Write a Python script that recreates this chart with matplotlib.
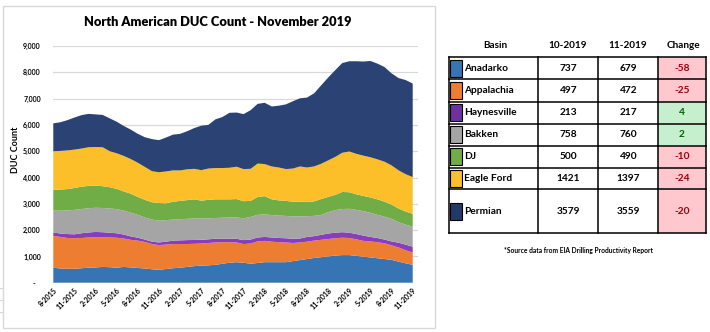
import matplotlib
matplotlib.use("Agg")
import matplotlib.pyplot as plt
from matplotlib.patches import Rectangle
import numpy as np

plt.rcParams['font.family'] = ['Lato', 'DejaVu Sans']

# ---- monthly DUC counts, Aug-2015 .. Nov-2019 ----
anadarko = [570, 540, 530, 530, 550, 570, 580, 600, 590, 570, 600, 580, 560, 540, 510, 490,
            520, 550, 570, 600, 630, 650, 660, 680, 720, 760, 780, 760, 720, 750, 780, 780,
            780, 780, 820, 860, 900, 940, 970, 1000, 1030, 1050, 1050, 1020, 990, 960, 930,
            900, 870, 800, 737, 679]
appalachia = [1210, 1200, 1170, 1160, 1150, 1150, 1150, 1130, 1130, 1140, 1080, 1050, 1040, 1010,
              960, 940, 930, 920, 900, 870, 850, 840, 850, 850, 820, 780, 750, 710, 770, 820,
              810, 780, 760, 750, 690, 670, 660, 660, 660, 660, 660, 660, 650, 630, 600, 610,
              610, 600, 550, 540, 497, 472]
haynesville = [130, 130, 150, 150, 180, 190, 200, 190, 180, 170, 150, 130, 110, 90, 90, 100,
               110, 130, 140, 150, 145, 140, 140, 140, 130, 130, 140, 150, 150, 150, 150, 160,
               160, 160, 160, 150, 180, 170, 190, 210, 210, 210, 200, 200, 200, 170, 160, 140,
               150, 180, 213, 217]
bakken = [830, 870, 900, 930, 920, 920, 920, 920, 920, 920, 910, 900, 870, 840, 840, 830,
          820, 800, 800, 810, 815, 810, 800, 790, 800, 810, 810, 830, 860, 860, 860, 850,
          850, 850, 850, 840, 790, 770, 760, 810, 860, 880, 910, 920, 930, 920, 880, 870,
          860, 780, 758, 760]
dj = [790, 800, 810, 830, 850, 850, 840, 830, 810, 770, 730, 720, 680, 670, 660, 670,
      640, 680, 700, 710, 730, 680, 700, 710, 700, 690, 700, 650, 610, 680, 690, 600,
      580, 570, 560, 560, 550, 550, 600, 580, 580, 650, 630, 590, 580, 580, 590, 570,
      540, 520, 500, 490]
eagle_ford = [1470, 1470, 1470, 1460, 1450, 1470, 1470, 1480, 1370, 1350, 1350, 1320, 1300, 1250,
              1180, 1170, 1210, 1190, 1160, 1170, 1160, 1160, 1190, 1190, 1190, 1200, 1230, 1220,
              1220, 1270, 1220, 1250, 1250, 1210, 1260, 1340, 1300, 1330, 1340, 1390, 1440, 1490,
              1550, 1540, 1530, 1530, 1520, 1520, 1490, 1450, 1421, 1397]
permian = [1060, 1090, 1150, 1220, 1270, 1270, 1240, 1230, 1250, 1200, 1140, 1120, 1100, 1130,
           1220, 1220, 1290, 1360, 1390, 1450, 1550, 1690, 1660, 1850, 1940, 2090, 2060, 2090,
           2230, 2270, 2330, 2280, 2350, 2460, 2560, 2590, 2660, 2780, 2980, 3150, 3300, 3410,
           3430, 3520, 3580, 3660, 3640, 3600, 3500, 3510, 3579, 3559]

month_labels = ["8-2015", "11-2015", "2-2016", "5-2016", "8-2016", "11-2016", "2-2017",
                "5-2017", "8-2017", "11-2017", "2-2018", "5-2018", "8-2018", "11-2018",
                "2-2019", "5-2019", "8-2019", "11-2019"]

# ---- summary table ----
basins = ["Anadarko", "Appalachia", "Haynesville", "Bakken", "DJ", "Eagle Ford", "Permian"]
oct_2019 = [737, 497, 213, 758, 500, 1421, 3579]
nov_2019 = [679, 472, 217, 760, 490, 1397, 3559]
change = [n - o for n, o in zip(nov_2019, oct_2019)]

area_colors = ["#3674b4", "#ed7d31", "#8a3cbf", "#a5a5a5", "#70ad47", "#fcbf2a", "#2a4374"]
swatch_colors = ["#3674b4", "#ed7d31", "#7030a0", "#a5a5a5", "#70ad47", "#fcbf2a", "#243a66"]

W, H = 710, 332
fig = plt.figure(figsize=(W / 100, H / 100), dpi=100)

# ---- stacked area chart ----
ax = fig.add_axes([53.3 / W, 1 - 282.7 / H, (418 - 53.3) / W, (282.7 - 46) / H])
x = np.arange(len(anadarko))
ax.stackplot(x, anadarko, appalachia, haynesville, bakken, dj, eagle_ford, permian,
             colors=area_colors, linewidth=0, zorder=2)
ax.set_xlim(0, 51.75)
ax.set_ylim(0, 9000)
ax.set_yticks(np.arange(0, 9001, 1000))
ax.set_yticklabels(["-   "] + [f"{v:,}" for v in range(1000, 9001, 1000)])
ax.set_xticks(np.arange(0, len(anadarko), 3))
ax.set_xticklabels(month_labels, rotation=45, ha='right', va='top', rotation_mode='anchor')
ax.tick_params(axis='both', length=0, labelsize=5, pad=3)
ax.tick_params(axis='y', pad=9)
for lab in ax.get_xticklabels() + ax.get_yticklabels():
    lab.set_fontweight('bold')
ax.grid(axis='y', color='#d9d9d9', linewidth=0.9, zorder=0)
ax.set_axisbelow(True)
for s in ax.spines.values():
    s.set_visible(False)
ax.set_ylabel("DUC Count", fontsize=6.5, fontweight='bold')
ax.yaxis.set_label_coords(-33.8 / (418 - 53.3), (282.7 - 150) / (282.7 - 46))

# ---- background frame and title ----
ov = fig.add_axes([0, 0, 1, 1])
ov.set_xlim(0, W)
ov.set_ylim(H, 0)
ov.axis('off')
ov.set_zorder(-1)

ov.add_patch(Rectangle((3, 6), 432, 322, fill=False, edgecolor='#d9d9d9', linewidth=1))
for yy in (288, 300, 312):
    ov.plot([0, 3], [yy, yy], color='#d9d9d9', linewidth=0.8)

ov.text(218, 22, "North American DUC Count - November 2019", ha='center', va='center',
        fontsize=9.3, fontweight='heavy')

# ---- basin table ----
ov2 = fig.add_axes([0, 0, 1, 1])
ov2.set_xlim(0, W)
ov2.set_ylim(H, 0)
ov2.axis('off')

col_edges = [449.3, 538.3, 598.3, 658.3, 705.7]
row_edges = [57.3, 79.3, 101.7, 123.7, 145.7, 167.7, 189.3, 233.3]
headers = ["Basin", "10-2019", "11-2019", "Change"]
header_x = [495, 568, 628, 683]
for hx, h in zip(header_x, headers):
    ov2.text(hx, 45, h, ha='center', va='center', fontsize=7.2, fontweight='bold')

for i, name in enumerate(basins):
    y0, y1 = row_edges[i], row_edges[i + 1]
    yc = (y0 + y1) / 2
    neg = change[i] < 0
    ov2.add_patch(Rectangle((col_edges[3], y0), col_edges[4] - col_edges[3], y1 - y0,
                            facecolor='#ffc7ce' if neg else '#c6efce', edgecolor='none'))
    ov2.add_patch(Rectangle((col_edges[0] + 0.5, yc - 8.5), 12.5, 17,
                            facecolor=swatch_colors[i], edgecolor='black', linewidth=0.8,
                            zorder=3))
    ov2.text(464.3, yc, name, ha='left', va='center', fontsize=7.3, fontweight='bold')
    ov2.text((col_edges[1] + col_edges[2]) / 2, yc, str(oct_2019[i]), ha='center',
             va='center', fontsize=7.3, fontweight='bold')
    ov2.text((col_edges[2] + col_edges[3]) / 2, yc, str(nov_2019[i]), ha='center',
             va='center', fontsize=7.3, fontweight='bold')
    ov2.text((col_edges[3] + col_edges[4]) / 2, yc, str(change[i]), ha='center',
             va='center', fontsize=7.3, fontweight='bold',
             color='#9c0006' if neg else '#006100')

for yy in row_edges:
    ov2.plot([col_edges[0], col_edges[-1]], [yy, yy], color='black', linewidth=1.1)
for xx in col_edges:
    ov2.plot([xx, xx], [row_edges[0], row_edges[-1]], color='black', linewidth=1.1)

ov2.text(578, 250, "*Source data from EIA Drilling Productivity Report", ha='center',
         va='center', fontsize=4.8, fontweight='bold')

fig.savefig("out.png", dpi=100)
